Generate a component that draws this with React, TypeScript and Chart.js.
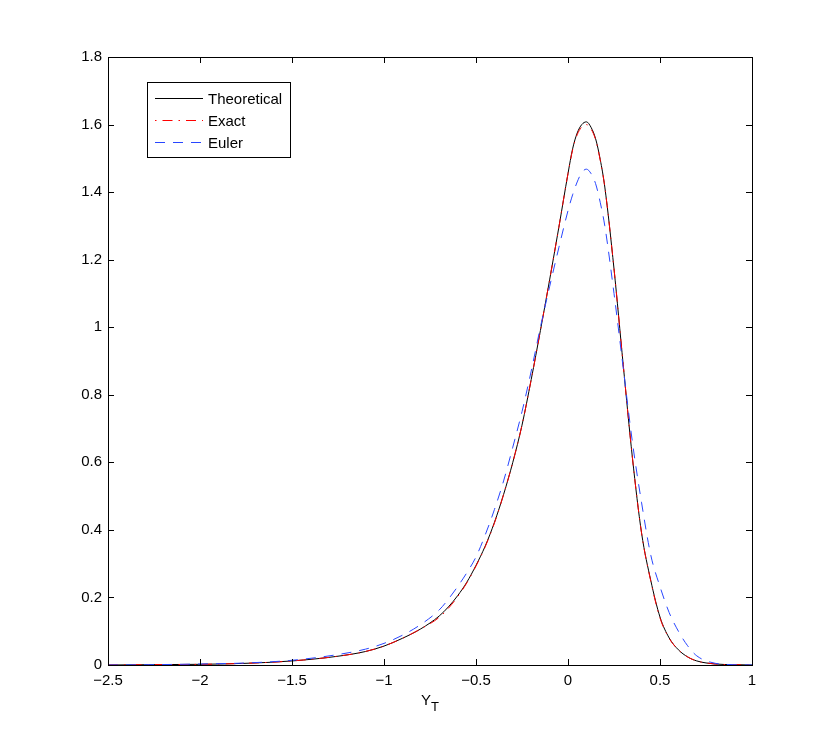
import React, { useEffect, useRef } from "react";
import { Chart, registerables } from "chart.js";
Chart.register(...registerables);

const xValues = [-2.5, -2.25, -2, -1.75, -1.5, -1.25, -1.1, -1, -0.9, -0.8, -0.7, -0.65, -0.6, -0.55, -0.5, -0.45, -0.4, -0.35, -0.3, -0.25, -0.2, -0.15, -0.1, -0.05, 0, 0.025, 0.05, 0.075, 0.1, 0.125, 0.15, 0.175, 0.2, 0.25, 0.3, 0.35, 0.4, 0.45, 0.5, 0.55, 0.6, 0.65, 0.7, 0.8, 0.9, 1];
const theoretical = [0, 0.001, 0.002, 0.005, 0.012, 0.026, 0.04, 0.056, 0.079, 0.107, 0.145, 0.172, 0.205, 0.245, 0.295, 0.352, 0.422, 0.505, 0.6, 0.71, 0.845, 0.99, 1.14, 1.295, 1.455, 1.528, 1.575, 1.6, 1.608, 1.592, 1.558, 1.497, 1.415, 1.173, 0.889, 0.614, 0.39, 0.25, 0.142, 0.08, 0.045, 0.024, 0.012, 0.003, 0.001, 0];
const exact = [0, 0.001, 0.002, 0.005, 0.012, 0.026, 0.04, 0.056, 0.079, 0.107, 0.141, 0.168, 0.202, 0.243, 0.293, 0.35, 0.42, 0.505, 0.6, 0.71, 0.845, 0.99, 1.14, 1.295, 1.455, 1.525, 1.57, 1.593, 1.6, 1.587, 1.555, 1.495, 1.415, 1.173, 0.889, 0.614, 0.39, 0.248, 0.139, 0.079, 0.045, 0.024, 0.012, 0.003, 0.001, 0];
const euler = [0, 0.001, 0.003, 0.006, 0.014, 0.031, 0.047, 0.064, 0.088, 0.12, 0.163, 0.195, 0.232, 0.273, 0.32, 0.385, 0.46, 0.545, 0.645, 0.75, 0.87, 1.0, 1.12, 1.235, 1.345, 1.392, 1.43, 1.458, 1.468, 1.455, 1.425, 1.37, 1.3, 1.1, 0.88, 0.66, 0.48, 0.325, 0.232, 0.155, 0.1, 0.057, 0.027, 0.005, 0.001, 0];
const xTicks = [-2.5, -2, -1.5, -1, -0.5, 0, 0.5, 1];
const yTicks = [0, 0.2, 0.4, 0.6, 0.8, 1, 1.2, 1.4, 1.6, 1.8];
const seriesLabels = ["Theoretical", "Exact", "Euler"];
const seriesColors = ["#000000", "#ff0000", "rgb(40,70,255)"];
const seriesDashes = [[], [10, 6, 1.5, 6], [10, 8]];
const axisTitleMain = "Y";
const axisTitleSub = "T";

const FONT = "'Liberation Sans', Arial, sans-serif";

const framePlugin = {
  id: "matlabFrame",
  afterDraw(chart: any) {
    const { ctx, chartArea } = chart;
    const { left, right, top, bottom } = chartArea;
    const xs = chart.scales.x;
    const ys = chart.scales.y;
    ctx.save();
    ctx.strokeStyle = "#000";
    ctx.lineWidth = 1;
    ctx.setLineDash([]);
    ctx.strokeRect(Math.round(left) + 0.5, Math.round(top) + 0.5, Math.round(right - left), Math.round(bottom - top));
    const tl = 6;
    ctx.beginPath();
    xTicks.forEach((v) => {
      const px = Math.round(xs.getPixelForValue(v)) + 0.5;
      ctx.moveTo(px, bottom);
      ctx.lineTo(px, bottom - tl);
      ctx.moveTo(px, top);
      ctx.lineTo(px, top + tl);
    });
    yTicks.forEach((v) => {
      const py = Math.round(ys.getPixelForValue(v)) + 0.5;
      ctx.moveTo(left, py);
      ctx.lineTo(left + tl, py);
      ctx.moveTo(right, py);
      ctx.lineTo(right - tl, py);
    });
    ctx.stroke();

    // axis title with subscript
    ctx.fillStyle = "#000";
    ctx.textBaseline = "alphabetic";
    ctx.font = `15px ${FONT}`;
    const wMain = ctx.measureText(axisTitleMain).width;
    ctx.font = `13px ${FONT}`;
    const wSub = ctx.measureText(axisTitleSub).width;
    const cx = (left + right) / 2;
    const startX = cx - (wMain + wSub) / 2;
    ctx.font = `15px ${FONT}`;
    ctx.textAlign = "left";
    ctx.fillText(axisTitleMain, startX, 705);
    ctx.font = `13px ${FONT}`;
    ctx.fillText(axisTitleSub, startX + wMain, 711);

    // legend box
    const bx = Math.round(left) + 39;
    const by = Math.round(top) + 25;
    const bw = 143;
    const bh = 75;
    ctx.fillStyle = "#fff";
    ctx.fillRect(bx, by, bw, bh);
    ctx.strokeStyle = "#000";
    ctx.strokeRect(bx + 0.5, by + 0.5, bw, bh);
    ctx.font = `15px ${FONT}`;
    ctx.textBaseline = "middle";
    seriesLabels.forEach((lab, i) => {
      const ly = by + 16 + i * 22 + 0.5;
      ctx.strokeStyle = seriesColors[i];
      ctx.setLineDash(seriesDashes[i]);
      ctx.lineDashOffset = i === 1 ? 16 : 0;
      ctx.beginPath();
      ctx.moveTo(bx + 8, ly);
      ctx.lineTo(bx + 56, ly);
      ctx.stroke();
      ctx.setLineDash([]);
      ctx.lineDashOffset = 0;
      ctx.fillStyle = "#000";
      ctx.fillText(lab, bx + 61, ly + 1);
    });
    ctx.restore();
  },
};

export default function App() {
  const ref = useRef<HTMLCanvasElement | null>(null);
  useEffect(() => {
    if (!ref.current) return;
    const series = [theoretical, exact, euler];
    const chart = new Chart(ref.current, {
      type: "line",
      data: {
        datasets: series.map((s, i) => ({
          label: seriesLabels[i],
          data: xValues.map((x, j) => ({ x, y: s[j] })),
          borderColor: seriesColors[i],
          borderWidth: 1,
          borderDash: seriesDashes[i],
          pointRadius: 0,
          fill: false,
          cubicInterpolationMode: "monotone" as const,
          order: 3 - i,
        })),
      },
      options: {
        animation: false,
        responsive: false,
        maintainAspectRatio: false,
        layout: { padding: { left: 0, right: 78, top: 57, bottom: 0 } },
        plugins: { legend: { display: false }, tooltip: { enabled: false } },
        scales: {
          x: {
            type: "linear",
            min: -2.5,
            max: 1,
            afterBuildTicks: (s: any) => { s.ticks = xTicks.map((v) => ({ value: v })); },
            afterFit: (s: any) => { s.height = 85; },
            grid: { display: false, drawTicks: false },
            border: { display: false },
            ticks: {
              padding: 7,
              color: "#000",
              font: { family: FONT, size: 15 },
              maxRotation: 0,
              callback: (v: any) => String(v).replace("-", "\u2212"),
            },
          },
          y: {
            type: "linear",
            min: 0,
            max: 1.8,
            afterBuildTicks: (s: any) => { s.ticks = yTicks.map((v) => ({ value: v })); },
            afterFit: (s: any) => { s.width = 108; },
            grid: { display: false, drawTicks: false },
            border: { display: false },
            ticks: {
              padding: 6,
              color: "#000",
              font: { family: FONT, size: 15 },
              callback: (v: any) => String(v).replace("-", "\u2212"),
            },
          },
        },
      },
      plugins: [framePlugin],
    });
    return () => chart.destroy();
  }, []);
  return (
    <div style={{ position: "absolute", left: 0, top: 0, width: 830, height: 750, background: "#fff" }}>
      <canvas ref={ref} width={830} height={750} style={{ width: 830, height: 750, display: "block" }} />
    </div>
  );
}
